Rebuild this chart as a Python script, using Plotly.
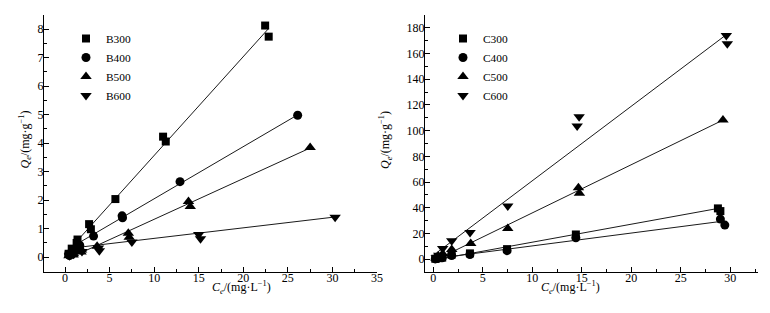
import plotly.graph_objects as go

# page has an 8px body margin; figure sized to fill the rest of the 770x313 window
OFF = 8
FW, FH = 770 - OFF, 313 - OFF

def px(x):
    return (x - OFF) / FW

def py(y):
    return 1 - (y - OFF) / FH

# ---- Left panel (B series) ----
b_names = ["B300", "B400", "B500", "B600"]
b300_x = [0.4, 0.75, 1.3, 1.4, 2.7, 2.9, 5.65, 11.0, 11.3, 22.45, 22.85]
b300_y = [0.12, 0.3, 0.5, 0.62, 1.16, 0.98, 2.04, 4.23, 4.06, 8.13, 7.74]
b400_x = [0.4, 0.5, 0.8, 0.85, 1.6, 1.65, 3.2, 6.4, 6.45, 12.9, 26.1]
b400_y = [0.1, 0.06, 0.15, 0.2, 0.35, 0.42, 0.74, 1.45, 1.38, 2.65, 4.98]
b500_x = [0.45, 0.5, 0.9, 0.95, 1.8, 1.85, 3.6, 7.1, 7.2, 13.85, 14.05, 27.5]
b500_y = [0.05, 0.08, 0.08, 0.12, 0.18, 0.25, 0.38, 0.84, 0.7, 1.95, 1.78, 3.85]
b600_x = [0.5, 0.55, 0.95, 1.0, 1.9, 3.75, 3.85, 7.5, 15.0, 15.2, 30.3]
b600_y = [0.05, 0.1, 0.1, 0.15, 0.2, 0.32, 0.23, 0.53, 0.8, 0.65, 1.40]
b_fit_slope = [0.347, 0.183, 0.143, 0.037]
b_fit_int = [0.10, 0.22, -0.10, 0.29]
b_fit_x0 = [1.3, 1.6, 1.8, 1.9]

# ---- Right panel (C series) ----
c_names = ["C300", "C400", "C500", "C600"]
c300_x = [0.2, 0.45, 0.9, 1.85, 3.7, 7.45, 14.4, 28.75, 29.0]
c300_y = [0.3, 0.8, 1.2, 3.5, 4.5, 7.8, 19.2, 39.5, 37.4]
c400_x = [0.2, 0.45, 0.9, 1.85, 3.7, 7.45, 14.4, 29.0, 29.45]
c400_y = [0.2, 0.6, 1.0, 2.8, 3.6, 6.6, 16.6, 31.2, 26.5]
c500_x = [0.25, 0.5, 0.95, 1.86, 3.78, 7.52, 14.66, 14.76, 29.26]
c500_y = [0.8, 2.5, 4.2, 7.5, 12.2, 23.9, 55.6, 51.2, 108.3]
c600_x = [0.3, 0.55, 0.95, 1.86, 3.71, 7.52, 14.53, 14.73, 29.6, 29.7]
c600_y = [1.0, 3.0, 8.3, 14.3, 20.8, 41.3, 103.7, 110.9, 174.0, 167.6]
c_fit_slope = [1.40, 1.00, 3.75, 5.80]
c_fit_int = [-0.8, 0.3, -1.5, 3.0]
c_fit_x0 = [0.2, 0.2, 0.25, 0.3]

symbols = ["square", "circle", "triangle-up", "triangle-down"]
sizes = [8, 9, 10, 10]

fig = go.Figure()

def add_panel(xs_list, ys_list, names, slopes, ints, x0s, xaxis, yaxis, legend):
    for xs, a, b, x0 in zip(xs_list, slopes, ints, x0s):
        x1 = max(xs)
        fig.add_trace(go.Scatter(
            x=[x0, x1], y=[a * x0 + b, a * x1 + b], mode="lines",
            line=dict(color="#1a1a1a", width=1), showlegend=False,
            xaxis=xaxis, yaxis=yaxis, hoverinfo="skip"))
    for xs, ys, nm, sym, sz in zip(xs_list, ys_list, names, symbols, sizes):
        fig.add_trace(go.Scatter(
            x=xs, y=ys, mode="markers", name=nm,
            marker=dict(symbol=sym, size=sz, color="black", line=dict(width=0)),
            xaxis=xaxis, yaxis=yaxis, legend=legend))

add_panel([b300_x, b400_x, b500_x, b600_x], [b300_y, b400_y, b500_y, b600_y],
          b_names, b_fit_slope, b_fit_int, b_fit_x0, "x", "y", "legend")
add_panel([c300_x, c400_x, c500_x, c600_x], [c300_y, c400_y, c500_y, c600_y],
          c_names, c_fit_slope, c_fit_int, c_fit_x0, "x2", "y2", "legend2")

FAM = "Liberation Serif, Times New Roman, serif"
font = dict(family=FAM, size=12, color="black")
lfont = dict(family=FAM, size=11.4, color="black")

def ax(domain, rng, dtick, minor_dtick, anchor, standoff):
    return dict(domain=domain, range=rng, dtick=dtick, tick0=0,
                showgrid=False, zeroline=False, showline=True, linecolor="black",
                linewidth=1, ticks="inside", ticklen=5, tickwidth=1, tickcolor="black",
                minor=dict(dtick=minor_dtick, tick0=0, ticks="inside", ticklen=3,
                           tickcolor="black", showgrid=False),
                ticklabelstandoff=standoff,
                tickfont=font, anchor=anchor, automargin=False, fixedrange=True)

ydom = [py(272), py(15)]
fig.update_layout(
    width=FW, height=FH, margin=dict(l=0, r=0, t=0, b=0),
    paper_bgcolor="white", plot_bgcolor="white", font=font,
    xaxis=ax([px(44), px(377)], [-2.36, 35], 5, 2.5, "y", -5),
    yaxis=ax(ydom, [-0.52, 8.5], 1, 0.5, "x", -3),
    xaxis2=ax([px(425), px(758)], [-0.84, 32.8], 5, 2.5, "y2", -5),
    yaxis2=ax(ydom, [-10, 190], 20, 10, "x2", -3),
    legend=dict(x=px(66), y=py(24), xanchor="left", yanchor="top",
                font=lfont, bgcolor="rgba(0,0,0,0)", itemwidth=30, tracegroupgap=0),
    legend2=dict(x=px(443), y=py(24), xanchor="left", yanchor="top",
                 font=lfont, bgcolor="rgba(0,0,0,0)", itemwidth=30, tracegroupgap=0),
    showlegend=True,
)

ytitle = "<i>Q</i><sub><i>e</i></sub>/(mg·g<sup>−1</sup>)"
xtitle = "<i>C</i><sub><i>e</i></sub>/(mg·L<sup>−1</sup>)"
for xx in (15, 386):
    fig.add_annotation(text=ytitle, x=px(xx), y=py(140), xref="paper", yref="paper",
                       textangle=-90, showarrow=False, font=font)
for xx in (210, 602):
    fig.add_annotation(text=xtitle, x=px(xx), y=py(298), xref="paper", yref="paper",
                       showarrow=False, font=font)

fig.write_html("out.html")
